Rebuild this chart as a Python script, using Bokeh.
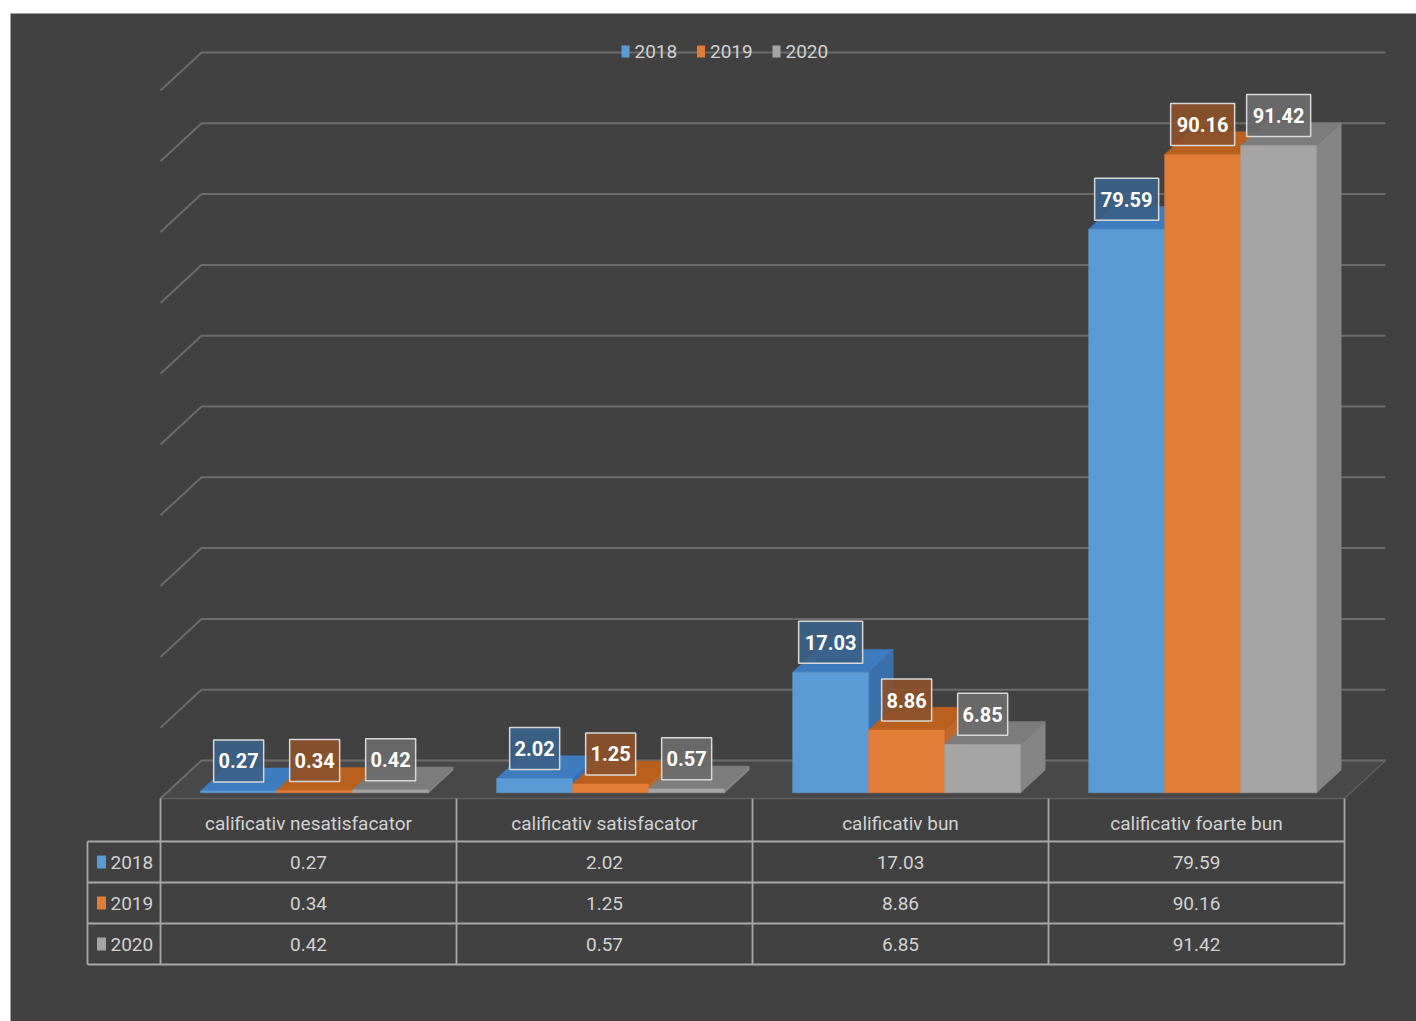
from bokeh.plotting import figure
from bokeh.models import Range1d, ColumnDataSource
from bokeh.embed import file_html
from bokeh.resources import INLINE
from bokeh.core.properties import value

# ---------------- data ----------------
categories = ["calificativ nesatisfacator", "calificativ satisfacator",
              "calificativ bun", "calificativ foarte bun"]
years = ["2018", "2019", "2020"]
v2018 = [0.27, 2.02, 17.03, 79.59]
v2019 = [0.34, 1.25, 8.86, 90.16]
v2020 = [0.42, 0.57, 6.85, 91.42]
series = [v2018, v2019, v2020]
grid_values = [0, 10, 20, 30, 40, 50, 60, 70, 80, 90, 100]

# ---------------- style ----------------
BG = "#414141"
GRID = "#6b6b6b"
TXT = "#d2d2d2"
TABLE_LINE = "#a8a8a8"
FONT = value("Roboto")
front_col = ["#5b9bd5", "#e27c37", "#a5a5a5"]
top_col = ["#3f7cbf", "#b9601f", "#7c7c7c"]
side_col = ["#3a70aa", "#c0662a", "#858585"]
label_fill = ["#3b6189", "#8c512b", "#6b6b6b"]

# ---------------- layout (page pixels -> data units) ----------------
W, H = 1416, 1021
FL, FT = 10, 13            # frame left/top on page
FR, FB = W, H              # frame right/bottom on page
X0, SLOT = 160.0, 296.0    # front-left of plot area, category slot width
Y0, PPU = 798.0, 7.08      # front floor line, pixels per value unit


def ux(px):
    return (px - X0) / SLOT


def uy(py):
    return (Y0 - py) / PPU


DX = 41.0 / SLOT           # chart depth (x)
DY = 38.0 / PPU            # chart depth (y)
FRONT = 0.15               # bar front position inside depth
DEPTH = 0.6                # bar depth fraction
GAP = 34.0 / SLOT
BW = (1 - 2 * GAP) / len(series)
NC = len(categories)

p = figure(width=W, height=H, output_backend="svg", toolbar_location=None,
           x_axis_type=None, y_axis_type=None,
           x_range=Range1d(ux(FL), ux(FR)), y_range=Range1d(uy(FB), uy(FT)),
           min_border_left=FL, min_border_top=FT,
           min_border_right=0, min_border_bottom=0)
p.background_fill_color = BG
p.border_fill_color = "white"
p.outline_line_color = None
p.xgrid.visible = False
p.ygrid.visible = False

# floor
p.patch([0, NC, NC + DX, DX], [0, 0, DY, DY], fill_color="#484848",
        line_color="#5e5e5e", line_width=1.5)

# gridlines on back wall and left side
gx, gy = [], []
for g in grid_values:
    gx.append([0, DX, NC + DX])
    gy.append([g, g + DY, g + DY])
p.multi_line(gx, gy, line_color=GRID, line_width=2)

# ---------------- 3D bars ----------------
pxs, pys, pcol = [], [], []
lab_x, lab_y, lab_t, lab_f, lab_w = [], [], [], [], []
fx, fy = FRONT * DX, FRONT * DY
bx, by = DEPTH * DX, DEPTH * DY
for i in range(NC):
    for j, s in enumerate(series):
        v = s[i]
        xl = i + GAP + j * BW + fx
        xr = xl + BW
        yb = fy
        yt = fy + v
        # side
        pxs.append([xr, xr + bx, xr + bx, xr]); pys.append([yb, yb + by, yt + by, yt]); pcol.append(side_col[j])
        # top
        pxs.append([xl, xr, xr + bx, xl + bx]); pys.append([yt, yt, yt + by, yt + by]); pcol.append(top_col[j])
        # front
        pxs.append([xl, xr, xr, xl]); pys.append([yb, yb, yt, yt]); pcol.append(front_col[j])
        t = "%.2f" % v
        lab_x.append((xl + xr) / 2)
        lab_y.append(yt + 30.0 / PPU)
        lab_t.append(t)
        lab_f.append(label_fill[j])
        lab_w.append(14 * len(t) - 6)

p.patches(xs="xs", ys="ys", fill_color="c", line_color="c", line_width=0.5,
          source=ColumnDataSource(dict(xs=pxs, ys=pys, c=pcol)))

lab_src = ColumnDataSource(dict(x=lab_x, y=lab_y, t=lab_t, f=lab_f, w=lab_w))
p.rect(x="x", y="y", width="w", height=42, width_units="screen", height_units="screen",
       fill_color="f", fill_alpha=0.92, line_color="#d8d8d8", line_width=1.5, source=lab_src)
p.text(x="x", y="y", text="t", text_align="center", text_baseline="middle",
       text_color="white", text_font=FONT, text_font_style="bold",
       text_font_size="20px", source=lab_src)

# ---------------- legend on top ----------------
LEG_X, LEG_STEP, LEG_Y = 625.0, 75.5, 51.0
for j, yr in enumerate(years):
    sx = LEG_X + j * LEG_STEP
    p.rect([ux(sx)], [uy(LEG_Y)], width=8, height=12, width_units="screen",
           height_units="screen", fill_color=front_col[j], line_color=None)
    p.text([ux(sx + 9)], [uy(LEG_Y)], text=[yr], text_align="left", text_baseline="middle",
           text_color=TXT, text_font=FONT, text_font_size="19px")

# ---------------- data table ----------------
T_LEFT = 87.0
ROW_TOP = 841.0
ROW_H = 41.0
T_BOTTOM = ROW_TOP + ROW_H * len(years)
lx, ly = [], []
for r in range(len(years) + 1):
    yy = uy(ROW_TOP + r * ROW_H)
    lx.append([ux(T_LEFT), NC]); ly.append([yy, yy])
for c in range(NC + 1):
    lx.append([c, c]); ly.append([0, uy(T_BOTTOM)])
lx.append([ux(T_LEFT), ux(T_LEFT)]); ly.append([uy(ROW_TOP), uy(T_BOTTOM)])
p.multi_line(lx, ly, line_color=TABLE_LINE, line_width=1.8)

# header (category names)
p.text([i + 0.5 for i in range(NC)], [uy(823)] * NC, text=categories,
       text_align="center", text_baseline="middle", text_color=TXT,
       text_font=FONT, text_font_size="19px")
# values
for j, s in enumerate(series):
    ry = uy(ROW_TOP + (j + 0.5) * ROW_H)
    p.text([i + 0.5 for i in range(NC)], [ry] * NC, text=["%.2f" % v for v in s],
           text_align="center", text_baseline="middle", text_color=TXT,
           text_font=FONT, text_font_size="19px")
    p.rect([ux(101)], [ry], width=9, height=13, width_units="screen", height_units="screen",
           fill_color=front_col[j], line_color=None)
    p.text([ux(110)], [ry], text=[years[j]], text_align="left", text_baseline="middle",
           text_color=TXT, text_font=FONT, text_font_size="19px")

open("out.html", "w").write(file_html(p, INLINE))
